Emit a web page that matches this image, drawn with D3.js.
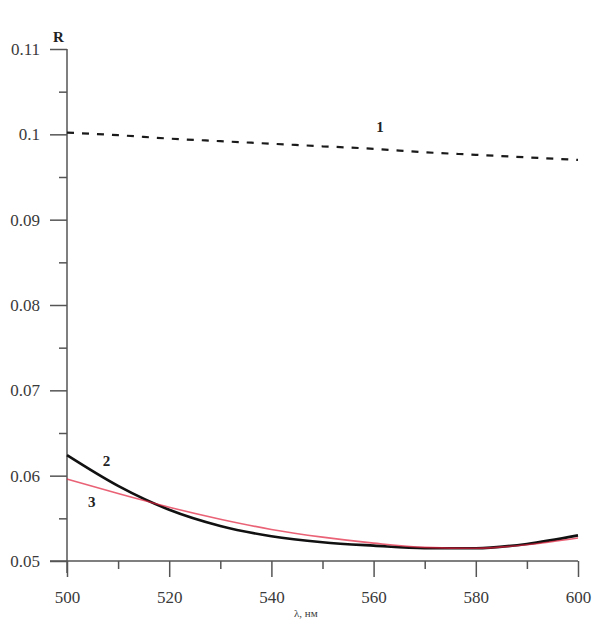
<!DOCTYPE html>
<html>
<head>
<meta charset="utf-8">
<script src="https://cdn.jsdelivr.net/npm/d3@7"></script>
<style>
  body { margin: 0; background: #fff; }
  svg text { font-family: "Liberation Serif", "Times New Roman", Times, "DejaVu Serif", serif; }
</style>
</head>
<body>
<div id="chart"></div>
<script>
let width = 594;
let height = 628;
let serif = '"Liberation Serif", "Times New Roman", Times, "DejaVu Serif", serif';

// wavelength, nm
let lambda = [500, 510, 520, 530, 540, 550, 560, 570, 580, 590, 600];
// curve 1 (dashed)
let curve1 = [0.1002, 0.0999, 0.0995, 0.0992, 0.0989, 0.0986, 0.0983, 0.0979, 0.0976, 0.0973, 0.0970];
// curve 2 (black)
let curve2 = [0.0624, 0.0588, 0.0560, 0.0541, 0.0529, 0.0522, 0.0518, 0.0515, 0.0515, 0.0520, 0.0530];
// curve 3 (red)
let curve3 = [0.0596, 0.0579, 0.0563, 0.0549, 0.0537, 0.0528, 0.0521, 0.0516, 0.0515, 0.0519, 0.0527];

let xTicks = [500, 520, 540, 560, 580, 600];
let yTicks = [0.05, 0.06, 0.07, 0.08, 0.09, 0.1, 0.11];
let yTickLabels = ['0.05', '0.06', '0.07', '0.08', '0.09', '0.1', '0.11'];

let svg = d3.select('#chart')
  .append('svg')
  .attr('width', width)
  .attr('height', height);

let x = d3.scaleLinear().domain([500, 600]).range([67, 578]);
let y = d3.scaleLinear().domain([0.05, 0.11]).range([561, 49]);

let axisColor = '#555';
let textColor = '#3a3a3a';

// x axis
let xAxis = svg.append('g')
  .attr('transform', 'translate(0,' + y(0.05) + ')')
  .call(d3.axisBottom(x).tickValues(xTicks).tickSize(16).tickPadding(14).tickFormat(d3.format('d')));

svg.append('g')
  .attr('transform', 'translate(0,' + y(0.05) + ')')
  .call(d3.axisBottom(x).tickValues(d3.range(510, 600, 20)).tickSize(8).tickFormat(''))
  .select('.domain').remove();

// y axis
let yAxis = svg.append('g')
  .attr('transform', 'translate(' + x(500) + ',0)')
  .call(d3.axisLeft(y).tickValues(yTicks).tickSize(17).tickPadding(10)
    .tickFormat(function(d, i) { return yTickLabels[i]; }));

svg.append('g')
  .attr('transform', 'translate(' + x(500) + ',0)')
  .call(d3.axisLeft(y).tickValues(d3.range(0.055, 0.11, 0.01)).tickSize(8).tickFormat(''))
  .select('.domain').remove();

svg.selectAll('g').attr('font-family', serif);
svg.selectAll('.domain').attr('stroke', axisColor).attr('stroke-width', 1.5);
svg.selectAll('.tick line').attr('stroke', axisColor).attr('stroke-width', 1.5);
svg.selectAll('.tick text')
  .attr('fill', textColor)
  .attr('font-family', serif)
  .style('font-size', '17px');

// y axis runs a little below the x axis, x axis a little left of the y axis
xAxis.select('.domain').attr('d', 'M' + (x(500) - 17) + ',0H' + x(600));
yAxis.select('.domain').attr('d', 'M0,' + y(0.11) + 'V' + (y(0.05) + 12));

// axis titles
svg.append('text')
  .attr('x', 53)
  .attr('y', 42)
  .attr('font-family', serif)
  .text('R')
  .style('font-size', '15px')
  .style('font-weight', 'bold')
  .attr('fill', '#222');

svg.append('text')
  .attr('x', 294)
  .attr('y', 617)
  .attr('font-family', serif)
  .text('λ, нм')
  .style('font-size', '11px')
  .attr('fill', textColor);

let line = function(vals) {
  return d3.line()
    .x(function(d, i) { return x(lambda[i]); })
    .y(function(d) { return y(d); })
    .curve(d3.curveMonotoneX)(vals);
};

svg.append('path')
  .attr('d', line(curve1))
  .attr('fill', 'none')
  .attr('stroke', '#1a1a1a')
  .attr('stroke-width', 2.2)
  .attr('stroke-dasharray', '7,8');

svg.append('path')
  .attr('d', line(curve2))
  .attr('fill', 'none')
  .attr('stroke', '#111')
  .attr('stroke-width', 2.6);

svg.append('path')
  .attr('d', line(curve3))
  .attr('fill', 'none')
  .attr('stroke', '#e0203c')
  .attr('stroke-opacity', 0.7)
  .attr('stroke-width', 1.6);

// curve numbers
let labels = [
  { t: '1', lx: 560.5, ly: 0.1003 },
  { t: '2', lx: 507.0, ly: 0.0611 },
  { t: '3', lx: 504.1, ly: 0.0563 }
];
svg.selectAll('.num')
  .data(labels)
  .enter()
  .append('text')
  .attr('class', 'num')
  .attr('x', function(d) { return x(d.lx); })
  .attr('y', function(d) { return y(d.ly); })
  .attr('font-family', serif)
  .text(function(d) { return d.t; })
  .style('font-size', '15px')
  .style('font-weight', 'bold')
  .attr('fill', '#222');
</script>
</body>
</html>
